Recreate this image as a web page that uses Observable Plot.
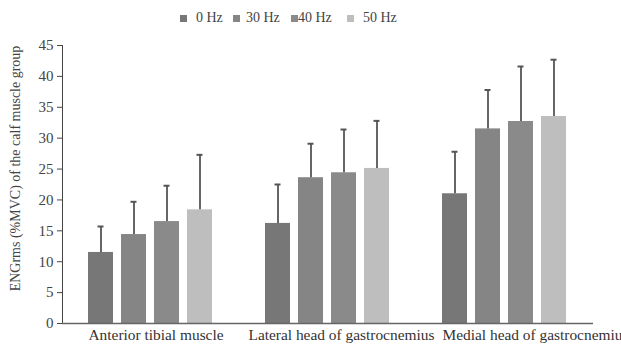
<!DOCTYPE html>
<html>
<head>
<meta charset="utf-8">
<script src="https://cdn.jsdelivr.net/npm/d3@7"></script>
<script src="https://cdn.jsdelivr.net/npm/@observablehq/plot@0.6"></script>
<style>
  html, body { margin: 0; padding: 0; background: #fff; }
  #wrap { width: 621px; height: 349px; position: relative; overflow: hidden; font-family: "Liberation Serif", "DejaVu Serif", serif; color: #444; }
  #legend { position: relative; height: 30px; font-size: 14px; }
  .sw { position: absolute; top: 15px; width: 7px; height: 7px; }
  .lab { position: absolute; top: 10px; line-height: 16px; white-space: nowrap; }
</style>
</head>
<body>
<div id="wrap">
  <div id="legend"></div>
  <div id="chart"></div>
</div>
<script>
const groups = ["Anterior tibial muscle", "Lateral head of gastrocnemius", "Medial head of gastrocnemius"];
const freqs = ["0 Hz", "30 Hz", "40 Hz", "50 Hz"];
const colors = ["#777777", "#858585", "#8a8a8a", "#bebebe"];
const mean0 = [11.5, 16.2, 21.0];
const mean30 = [14.4, 23.6, 31.5];
const mean40 = [16.5, 24.4, 32.7];
const mean50 = [18.4, 25.1, 33.5];
const sd0 = [4.2, 6.3, 6.8];
const sd30 = [5.3, 5.5, 6.3];
const sd40 = [5.8, 7.0, 8.9];
const sd50 = [8.9, 7.7, 9.2];
const yTicks = [0, 5, 10, 15, 20, 25, 30, 35, 40, 45];
const yLabel = "ENGrms (%MVC) of the calf muscle group";

const means = [mean0, mean30, mean40, mean50];
const sds = [sd0, sd30, sd40, sd50];
const data = [];
groups.forEach((g, gi) => freqs.forEach((f, fi) => {
  data.push({group: g, freq: f, mean: means[fi][gi], top: means[fi][gi] + sds[fi][gi]});
}));

// legend
const swX = [180, 233, 291, 347];
const labX = [196, 246, 298, 363];
const legend = document.getElementById("legend");
freqs.forEach((f, i) => {
  const s = document.createElement("div");
  s.className = "sw"; s.style.left = swX[i] + "px"; s.style.background = colors[i];
  legend.appendChild(s);
  const t = document.createElement("div");
  t.className = "lab"; t.style.left = labX[i] + "px"; t.textContent = f;
  legend.appendChild(t);
});

const chart = Plot.plot({
  width: 621,
  height: 319,
  marginTop: 15,
  marginBottom: 26,
  marginLeft: 62,
  marginRight: 28,
  style: {fontFamily: "'Liberation Serif', serif", fontSize: "15px", color: "#444", background: "transparent", overflow: "visible"},
  fx: {domain: groups, padding: 0, axis: null},
  x: {domain: freqs, axis: null, paddingInner: 0.24, paddingOuter: 0.8},
  y: {domain: [0, 45], ticks: yTicks, tickSize: 5, tickPadding: 4, line: true, label: null},
  color: {domain: freqs, range: colors},
  marks: [
    Plot.barY(data, {fx: "group", x: "freq", y: "mean", fill: "freq"}),
    Plot.ruleX(data, {fx: "group", x: "freq", y1: "mean", y2: "top", stroke: "#666", strokeWidth: 2}),
    Plot.tickY(data, {fx: "group", x: "freq", y: "top", stroke: "#555", strokeWidth: 2, insetLeft: 9.5, insetRight: 9.5}),
    Plot.ruleY([0], {stroke: "#666", strokeWidth: 1.5}),
    // category labels
    Plot.text([groups[0], groups[2]], {fx: d => d, text: d => d, frameAnchor: "bottom-left", textAnchor: "start",
      dx: 26, dy: 16, fontSize: 15.4, fill: "#333"}),
    Plot.text([groups[1]], {fx: d => d, text: d => d, frameAnchor: "bottom-left", textAnchor: "start",
      dx: 9, dy: 16, fontSize: 15.4, fill: "#333"}),
    // y axis title
    Plot.text([yLabel], {fx: () => groups[0], text: d => d, frameAnchor: "left", textAnchor: "middle", rotate: -90,
      dx: -47, dy: -16, fontSize: 14, fill: "#444"})
  ]
});
document.getElementById("chart").appendChild(chart);
</script>
</body>
</html>
